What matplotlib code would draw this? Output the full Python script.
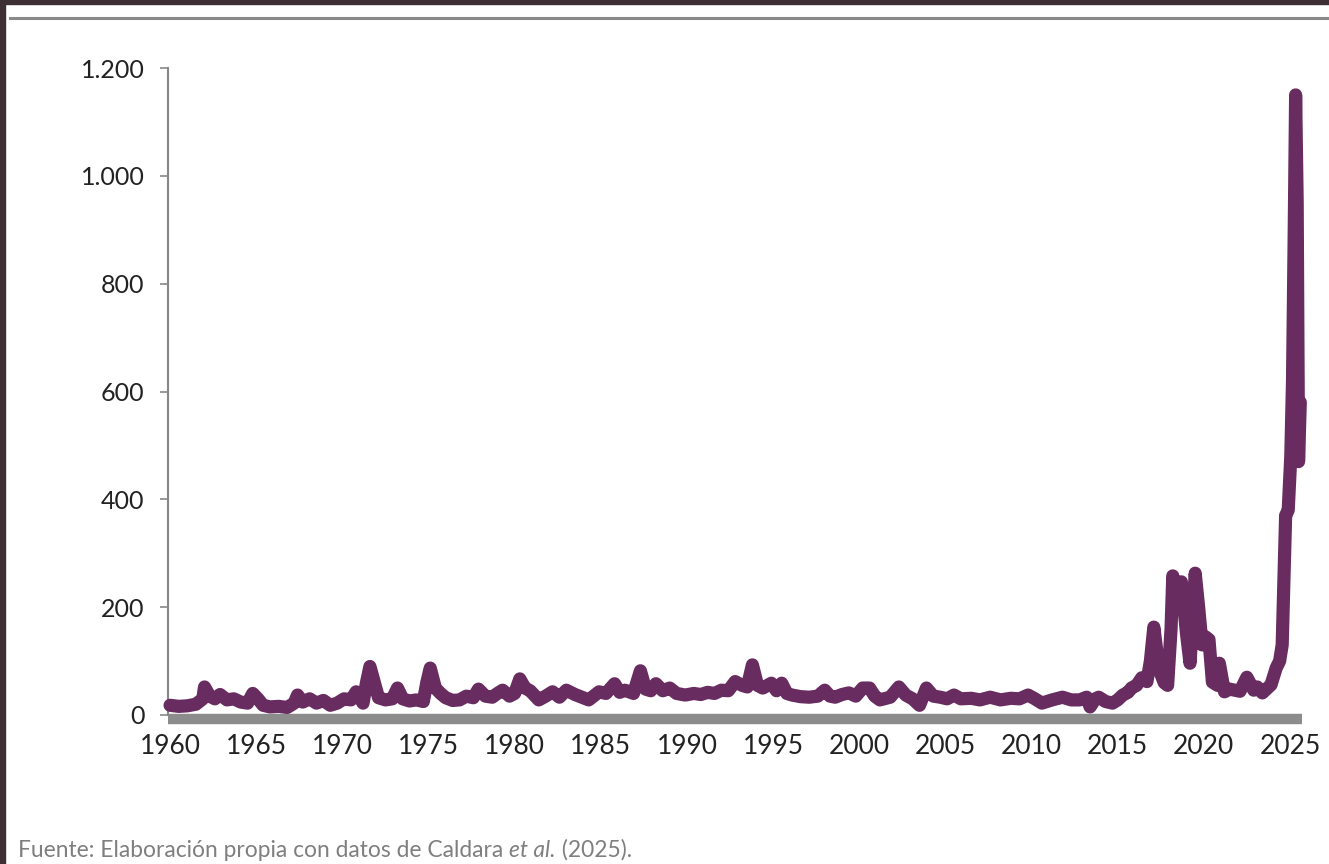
import matplotlib
matplotlib.use("Agg")
import matplotlib.pyplot as plt
from matplotlib.ticker import FuncFormatter
from matplotlib.lines import Line2D
from matplotlib.patches import Rectangle

# serie (fecha decimal, valor del indice)
years = [
    1960.0, 1960.5, 1961.0, 1961.5, 1961.9, 1962.0, 1962.3, 1962.6, 1962.9, 1963.3,
    1963.7, 1964.1, 1964.5, 1964.8, 1965.1, 1965.4, 1965.8, 1966.3, 1966.8, 1967.2,
    1967.4, 1967.7, 1968.1, 1968.5, 1968.9, 1969.3, 1969.7, 1970.1, 1970.5, 1970.8,
    1971.2, 1971.4, 1971.6, 1971.9, 1972.1, 1972.5, 1972.9, 1973.2, 1973.5, 1973.9,
    1974.3, 1974.7, 1974.9, 1975.1, 1975.4, 1975.7, 1976.0, 1976.4, 1976.8, 1977.2,
    1977.6, 1977.9, 1978.3, 1978.7, 1979.0, 1979.3, 1979.7, 1980.0, 1980.3, 1980.6,
    1980.9, 1981.4, 1981.8, 1982.2, 1982.6, 1983.0, 1983.5, 1983.9, 1984.3, 1984.9,
    1985.3, 1985.8, 1986.1, 1986.4, 1986.9, 1987.3, 1987.6, 1987.9, 1988.2, 1988.6,
    1989.0, 1989.4, 1989.9, 1990.4, 1990.8, 1991.2, 1991.6, 1992.0, 1992.4, 1992.8,
    1993.2, 1993.5, 1993.8, 1994.1, 1994.4, 1994.9, 1995.2, 1995.5, 1995.8, 1996.1,
    1996.6, 1997.1, 1997.6, 1998.0, 1998.3, 1998.6, 1999.0, 1999.4, 1999.8, 2000.2,
    2000.6, 2000.9, 2001.2, 2001.8, 2002.3, 2002.7, 2003.1, 2003.5, 2003.9, 2004.3,
    2004.7, 2005.1, 2005.5, 2005.9, 2006.5, 2007.0, 2007.6, 2008.2, 2008.8, 2009.3,
    2009.8, 2010.2, 2010.6, 2011.2, 2011.8, 2012.3, 2012.8, 2013.2, 2013.4, 2013.7,
    2013.9, 2014.3, 2014.7, 2015.0, 2015.3, 2015.6, 2015.8, 2016.1, 2016.4, 2016.7,
    2016.9, 2017.1, 2017.4, 2017.7, 2017.9, 2018.1, 2018.2, 2018.5, 2018.7, 2019.0,
    2019.2, 2019.4, 2019.5, 2019.7, 2019.9, 2020.1, 2020.3, 2020.5, 2020.8, 2020.9,
    2021.2, 2021.5, 2021.8, 2022.1, 2022.5, 2022.9, 2023.1, 2023.4, 2023.7, 2023.9,
    2024.2, 2024.4, 2024.55, 2024.65, 2024.75, 2024.9, 2025.05, 2025.15, 2025.25, 2025.33,
    2025.42, 2025.5, 2025.6,
]
values = [
    18, 16, 17, 20, 30, 52, 35, 30, 38, 28,
    30, 24, 22, 40, 30, 18, 15, 16, 14, 22,
    37, 24, 30, 22, 27, 18, 22, 30, 28, 43,
    22, 60, 90, 55, 32, 28, 30, 50, 30, 26,
    28, 25, 60, 87, 50, 40, 32, 27, 28, 35,
    32, 48, 35, 33, 40, 46, 35, 40, 67, 50,
    45, 28, 35, 43, 33, 46, 38, 33, 28, 43,
    40, 58, 42, 46, 40, 82, 48, 45, 58, 45,
    50, 40, 37, 40, 38, 42, 40, 46, 45, 62,
    55, 52, 93, 55, 50, 59, 45, 59, 40, 37,
    34, 33, 35, 46, 35, 33, 38, 41, 35, 50,
    50, 35, 28, 33, 52, 37, 30, 18, 50, 35,
    33, 30, 37, 30, 31, 28, 33, 28, 31, 30,
    37, 30, 22, 28, 33, 28, 28, 33, 15, 30,
    33, 25, 22, 28, 37, 42, 50, 55, 69, 62,
    100, 163, 85, 60, 55, 160, 258, 200, 247, 150,
    96, 200, 263, 200, 130, 145, 140, 61, 55, 96,
    43, 48, 46, 44, 70, 46, 52, 41, 50, 56,
    87, 100, 130, 250, 370, 380, 480, 620, 900, 1150,
    950, 470, 580,
]
x_ticks = [1960, 1965, 1970, 1975, 1980, 1985, 1990, 1995, 2000, 2005, 2010, 2015, 2020, 2025]
y_ticks = [0, 200, 400, 600, 800, 1000, 1200]
source_parts = ["Fuente: Elaboración propia con datos de Caldara ", "et al.", " (2025)."]

plt.rcParams['font.family'] = ['Lato', 'DejaVu Sans']

fig = plt.figure(figsize=(13.29, 8.64), dpi=100)
fig.patch.set_facecolor('white')

# marco oscuro de la captura
fig.patches.append(Rectangle((0, 0), 5 / 1329, 1, transform=fig.transFigure,
                             color='#3d2f33', zorder=0))
fig.patches.append(Rectangle((0, 1 - 4 / 864), 1, 4 / 864, transform=fig.transFigure,
                             color='#3d2f33', zorder=0))
fig.lines.append(Line2D([10 / 1329, 1], [1 - 18 / 864, 1 - 18 / 864], transform=fig.transFigure,
                        color='#8a8a8a', lw=2.2))

ax = fig.add_axes([168 / 1329, 1 - 715 / 864, (1302 - 168) / 1329, (715 - 68) / 864])
ax.plot(years, values, color='#682c60', lw=9.5, solid_joinstyle='round',
        solid_capstyle='round', zorder=3, clip_on=False)

ax.set_xlim(1959.88, 2025.7)
ax.set_ylim(0, 1200)
ax.set_xticks(x_ticks)
ax.set_yticks(y_ticks)
ax.yaxis.set_major_formatter(FuncFormatter(lambda v, p: f"{int(v):,}".replace(",", ".")))

for s in ['top', 'right']:
    ax.spines[s].set_visible(False)
ax.spines['left'].set_color('#888888')
ax.spines['left'].set_linewidth(1.5)
ax.spines['bottom'].set_color('#8c8c8c')
ax.spines['bottom'].set_linewidth(7.5)
ax.spines['bottom'].set_capstyle('butt')
ax.spines['bottom'].set_position(('outward', 3))
ax.spines['bottom'].set_zorder(2)

ax.tick_params(axis='y', length=6, width=1.2, color='#888888', pad=11,
               labelsize=18, labelcolor='#222222')
ax.tick_params(axis='x', length=0, pad=11, labelsize=19, labelcolor='#222222')

# fuente, con "et al." en cursiva
fig.canvas.draw()
r = fig.canvas.get_renderer()
xpos = 18 / 1329
for i, part in enumerate(source_parts):
    t = fig.text(xpos, 1 - 857 / 864, part, fontsize=16.4, color='#7f7f7f',
                 style='italic' if i == 1 else 'normal', va='baseline', ha='left')
    bb = t.get_window_extent(renderer=r)
    xpos += bb.width / 1329

fig.savefig('out.png', dpi=100)
